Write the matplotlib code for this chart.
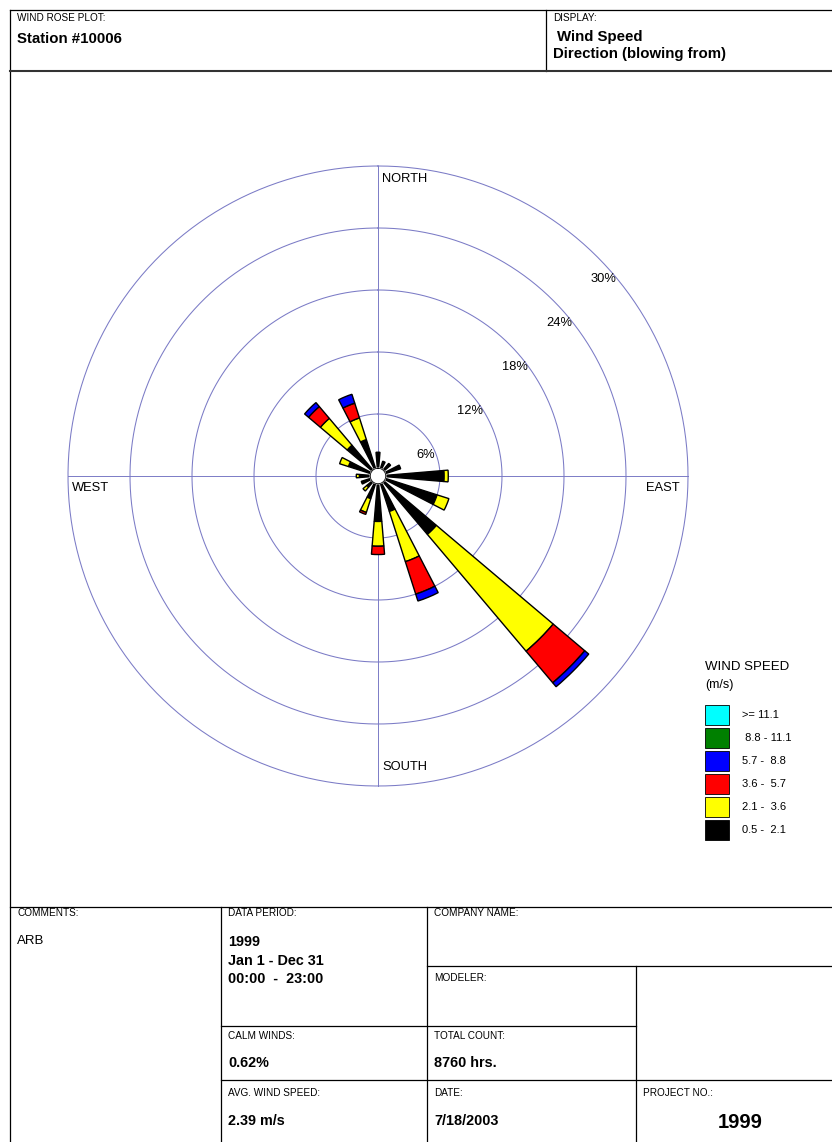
import numpy as np
import matplotlib
matplotlib.use("Agg")
import matplotlib.pyplot as plt
from matplotlib.lines import Line2D
from matplotlib.patches import Rectangle

# 16 compass sectors, "blowing from", clockwise from north
directions = ["N", "NNE", "NE", "ENE", "E", "ESE", "SE", "SSE",
              "S", "SSW", "SW", "WSW", "W", "WNW", "NW", "NNW"]

# frequency (%) per direction for each wind speed class
spd_05_21 = [2.3, 1.5, 1.6, 2.3, 6.4, 6.0, 7.4, 3.6, 4.4, 2.3, 1.4, 1.7, 1.8, 3.0, 3.9, 3.7]
spd_21_36 = [0.0, 0.0, 0.0, 0.0, 0.4, 1.2, 14.8, 5.1, 2.4, 1.4, 0.5, 0.0, 0.3, 0.9, 3.4, 2.2]
spd_36_57 = [0.0, 0.0, 0.0, 0.0, 0.0, 0.0, 4.0, 3.3, 0.8, 0.2, 0.0, 0.0, 0.0, 0.0, 1.5, 1.5]
spd_57_88 = [0.0, 0.0, 0.0, 0.0, 0.0, 0.0, 0.5, 0.7, 0.0, 0.0, 0.0, 0.0, 0.0, 0.0, 0.5, 0.9]
spd_88_111 = [0.0] * 16
spd_111_up = [0.0] * 16

classes = [spd_05_21, spd_21_36, spd_36_57, spd_57_88, spd_88_111, spd_111_up]
class_colors = ["black", "#ffff00", "#ff0000", "#0000ff", "#008000", "#00ffff"]
class_labels = ["0.5 -  2.1", "2.1 -  3.6", "3.6 -  5.7", "5.7 -  8.8", " 8.8 - 11.1", ">= 11.1"]

rings = [6, 12, 18, 24, 30]
calm_radius = 0.75

W, H = 832, 1142
FONT = ["Liberation Sans", "DejaVu Sans"]
NARROW = ["Liberation Sans Narrow", "Liberation Sans", "DejaVu Sans"]
plt.rcParams["font.family"] = FONT


def fx(x):
    return x / W


def fy(y):
    return 1 - y / H


fig = plt.figure(figsize=(W / 100, H / 100), dpi=100)

# --- the rose ---------------------------------------------------------------
cx, cy = 378, 476
scale = 310 / 30.0            # pixels per percent
rmax = 31.0
rpx = rmax * scale
ax = fig.add_axes([fx(cx - rpx), fy(cy + rpx), 2 * rpx / W, 2 * rpx / H], projection="polar")
ax.set_theta_zero_location("N")
ax.set_theta_direction(-1)
ax.set_ylim(0, rmax)
ax.set_xticks([])
ax.set_yticks([])
ax.grid(False)
ax.spines["polar"].set_visible(False)
ax.patch.set_alpha(0)

grid_col = "#7b7bc6"
t = np.linspace(0, 2 * np.pi, 400)
for r in rings:
    ax.plot(t, np.full_like(t, r), color=grid_col, lw=0.75, zorder=1)
for a in [0, np.pi / 2, np.pi, 3 * np.pi / 2]:
    ax.plot([a, a], [0, 30], color=grid_col, lw=0.7, zorder=1)

theta = np.deg2rad(np.arange(16) * 22.5)
width = np.deg2rad(9.6)
bottom = np.zeros(16)
for vals, col in zip(classes, class_colors):
    vals = np.array(vals)
    mask = vals > 0
    ax.bar(theta[mask], vals[mask], width=width, bottom=bottom[mask],
           color=col, edgecolor="black", linewidth=1.0, zorder=3)
    bottom = bottom + vals

ax.fill(t, np.full_like(t, calm_radius), color="white", zorder=4)
ax.plot(t, np.full_like(t, calm_radius), color="black", lw=0.6, zorder=5)

# ring labels, placed just inside each ring
for k, r in enumerate(rings, start=1):
    dy = (44 * k - 23) / scale
    dx = np.sqrt(r ** 2 - dy ** 2) - 0.1
    ang = np.arctan2(dx, dy)
    rr = np.hypot(dx, dy)
    ax.text(ang, rr, f"{r}%", ha="right", va="center", fontsize=9.3, zorder=6)

fig.text(fx(382), fy(179), "NORTH", ha="left", va="center", fontsize=9.3)
fig.text(fx(382), fy(767), "SOUTH", ha="left", va="center", fontsize=9.3)
fig.text(fx(72), fy(488), "WEST", ha="left", va="center", fontsize=9.3)
fig.text(fx(680), fy(488), "EAST", ha="right", va="center", fontsize=9.3)

# --- legend -------------------------------------------------------------------
fig.text(fx(705), fy(667), "WIND SPEED", ha="left", va="center", fontsize=9.5)
fig.text(fx(705), fy(685), "(m/s)", ha="left", va="center", fontsize=9)
for i, (col, lab) in enumerate(zip(class_colors[::-1], class_labels[::-1])):
    y0 = 705 + i * 23
    fig.add_artist(Rectangle((fx(705), fy(y0 + 20)), 24 / W, 20 / H, transform=fig.transFigure,
                             facecolor=col, edgecolor="black", lw=0.6))
    fig.text(fx(742), fy(y0 + 10), lab, ha="left", va="center", fontsize=8)

# --- frame and title block ----------------------------------------------------
def hline(y, x0, x1, lw=0.9, color="black"):
    fig.add_artist(Line2D([fx(x0), fx(x1)], [fy(y), fy(y)], transform=fig.transFigure,
                          color=color, lw=lw))


def vline(x, y0, y1, lw=0.9):
    fig.add_artist(Line2D([fx(x), fx(x)], [fy(y0), fy(y1)], transform=fig.transFigure,
                          color="black", lw=lw))


hline(10, 10, 832)
vline(10, 10, 1142)
vline(546, 10, 71)
hline(71, 10, 832, lw=1.5, color="#333333")
hline(907, 10, 832)
vline(221, 907, 1142)
vline(427, 907, 1142)
hline(966, 427, 832)
vline(636, 966, 1142)
hline(1026, 221, 636)
hline(1080, 221, 832)


def small(x, y, s):
    fig.text(fx(x), fy(y), s, ha="left", va="center", fontsize=7.2, family=NARROW)


def bold(x, y, s, size=10.4, ha="left"):
    fig.text(fx(x), fy(y), s, ha=ha, va="center", fontsize=size, fontweight="bold", family=FONT)


small(17, 18, "WIND ROSE PLOT:")
bold(17, 39, "Station #10006", 10.8)
small(553, 18, "DISPLAY:")
bold(557, 37, "Wind Speed", 10.8)
bold(553, 54, "Direction (blowing from)", 10.8)

small(17, 913, "COMMENTS:")
fig.text(fx(17), fy(941), "ARB", ha="left", va="center", fontsize=9.5)
small(228, 913, "DATA PERIOD:")
bold(228, 942, "1999")
bold(228, 961, "Jan 1 - Dec 31")
bold(228, 979, "00:00  -  23:00")
small(434, 913, "COMPANY NAME:")
small(434, 978, "MODELER:")
small(228, 1036, "CALM WINDS:")
bold(228, 1063, "0.62%")
small(434, 1036, "TOTAL COUNT:")
bold(434, 1063, "8760 hrs.")
small(228, 1093, "AVG. WIND SPEED:")
bold(228, 1121, "2.39 m/s")
small(434, 1093, "DATE:")
bold(434, 1121, "7/18/2003")
small(643, 1093, "PROJECT NO.:")
bold(740, 1123, "1999", 14.5, ha="center")

fig.savefig("out.png", dpi=100)
